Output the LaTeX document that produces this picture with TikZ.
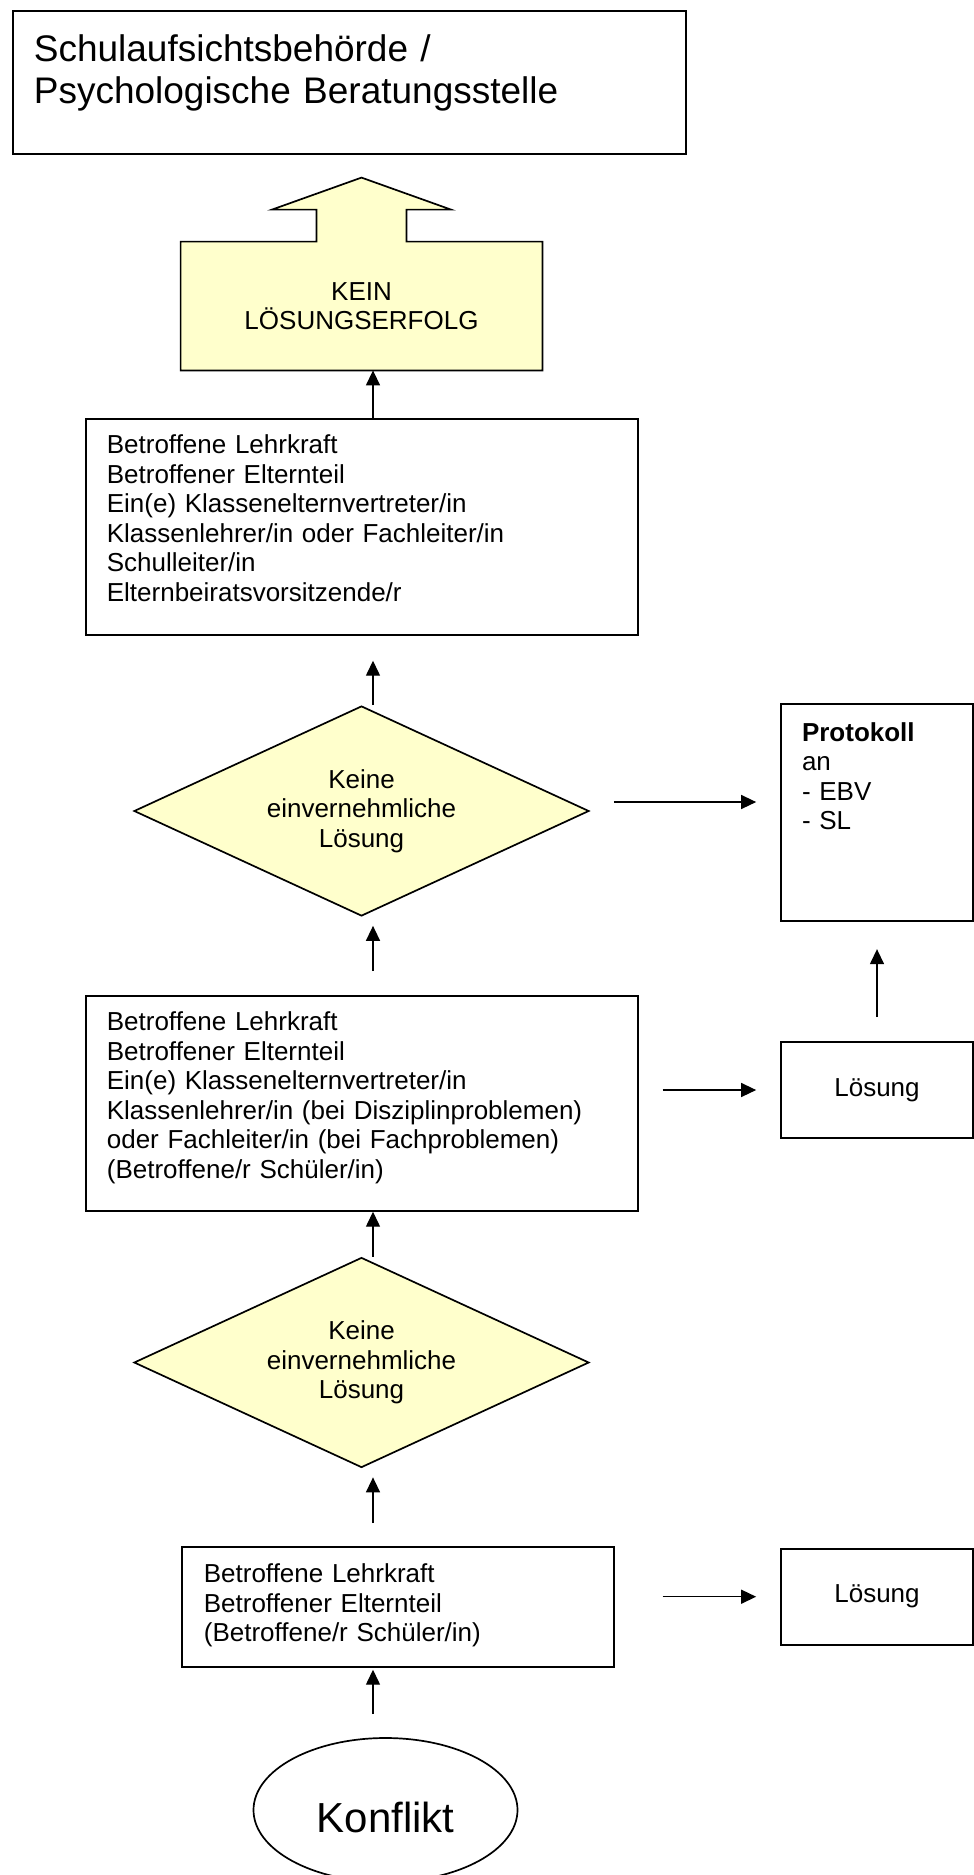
\documentclass[tikz,border=0pt]{standalone}
\usepackage{fontspec}
\setmainfont{Liberation Sans}
\usetikzlibrary{positioning,shapes.geometric,arrows.meta,calc,backgrounds}
\definecolor{hellgelb}{RGB}{255,255,204}

\begin{document}
\begin{tikzpicture}[x=0.5pt, y=-0.5pt,
    font=\fontsize{13pt}{14.75pt}\selectfont,
    box/.style={draw, line width=0.85pt, inner ysep=0pt, inner xsep=10.5pt, align=left, anchor=north west},
    raute/.style={diamond, aspect=2.17, draw, line width=0.85pt, fill=hellgelb, inner sep=0pt,
        minimum width=227.5pt, minimum height=105pt, align=center},
    loesung/.style={draw, line width=0.85pt, minimum width=96pt, minimum height=48pt, inner sep=0pt},
    pfeil/.style={line width=0.7pt, -{Triangle[length=7.5pt, width=7pt]}}
]
    \useasboundingbox (0,0) rectangle (974,1875);

    \node[box, text width=315.5pt, text height=25.25pt, text depth=46.25pt,
        font=\fontsize{18.5pt}{21pt}\selectfont] (aufsicht) at (12,10)
        {Schulaufsichtsbehörde /\\ Psychologische Beratungsstelle};

    \node[minimum width=180.5pt, minimum height=64pt, inner sep=0pt, align=center]
        (kein erfolg) at (361.5,306) {KEIN\\ LÖSUNGSERFOLG};

    \begin{scope}[on background layer]
        \filldraw[fill=hellgelb, line width=0.85pt]
            (kein erfolg.south west) -- (kein erfolg.north west)
            -- ($(kein erfolg.north)+(-45,0)$) -- ++(0,-32) -- ++(-44.5,0)
            -- ($(kein erfolg.north)+(0,-64)$)
            -- ($(kein erfolg.north)+(89.5,-32)$) -- ++(-44.5,0) -- ++(0,32)
            -- (kein erfolg.north east) -- (kein erfolg.south east) -- cycle;
    \end{scope}

    \node[box, text width=255pt, text height=17.5pt, text depth=90.5pt] (runde drei) at (85,418)
        {Betroffene Lehrkraft\\ Betroffener Elternteil\\ Ein(e) Klassenelternvertreter/in\\
         Klassenlehrer/in oder Fachleiter/in\\ Schulleiter/in\\ Elternbeiratsvorsitzende/r};

    \node[raute] (raute oben) at (361.5,811) {Keine\\ einvernehmliche\\ Lösung};

    \node[box, text width=255pt, text height=17.5pt, text depth=90pt] (runde zwei) at (85,995)
        {Betroffene Lehrkraft\\ Betroffener Elternteil\\ Ein(e) Klassenelternvertreter/in\\
         Klassenlehrer/in (bei Disziplinproblemen)\\ oder Fachleiter/in (bei Fachproblemen)\\
         (Betroffene/r Schüler/in)};

    \node[raute] (raute unten) at (361.5,1362.5) {Keine\\ einvernehmliche\\ Lösung};

    \node[box, inner xsep=11pt, text width=194pt, text height=18pt, text depth=42pt] (runde eins) at (181,1546)
        {Betroffene Lehrkraft\\ Betroffener Elternteil\\ (Betroffene/r Schüler/in)};

    \node[ellipse, draw, line width=0.85pt, minimum width=132pt, minimum height=72pt, inner sep=0pt,
        text height=22pt, text depth=0pt, font=\fontsize{21pt}{25pt}\selectfont]
        (konflikt) at (385.5,1810) {Konflikt};

    % rechte Spalte
    \node[loesung] (loesung oben) at (877,1090) {Lösung};
    \node[box, text width=75pt, text height=18.5pt, text depth=90pt, above=59.5pt of loesung oben]
        (protokoll) {\textbf{Protokoll}\\ an\\ - EBV\\ - SL};
    \node[loesung, below=204.5pt of loesung oben] (loesung unten) {Lösung};

    \coordinate (achse) at (373,0);

    \foreach \von/\nach/\ab/\an in {
        runde drei/kein erfolg/0/0,
        raute oben/runde drei/0/12.5,
        runde zwei/raute oben/12/4.5,
        raute unten/runde zwei/0/0,
        runde eins/raute unten/11.5/4.5,
        konflikt/runde eins/11.5/1}{
        \draw[pfeil, shorten <=\ab pt, shorten >=\an pt] (\von.north -| achse) -- (\nach.south -| achse);
    }

    \draw[pfeil, shorten <=12pt, shorten >=12pt]
        ([yshift=4.5pt]raute oben.east) -- ([yshift=4.5pt]raute oben.east -| protokoll.west);
    \draw[pfeil, shorten <=12pt, shorten >=12pt] (runde zwei.east |- loesung oben.west) -- (loesung oben.west);
    \draw[pfeil, shorten <=24pt, shorten >=12pt] (runde eins.east |- loesung unten.west) -- (loesung unten.west);
    \draw[pfeil, shorten <=12pt, shorten >=13.5pt] (loesung oben.north) -- (protokoll.south);
\end{tikzpicture}
\end{document}
